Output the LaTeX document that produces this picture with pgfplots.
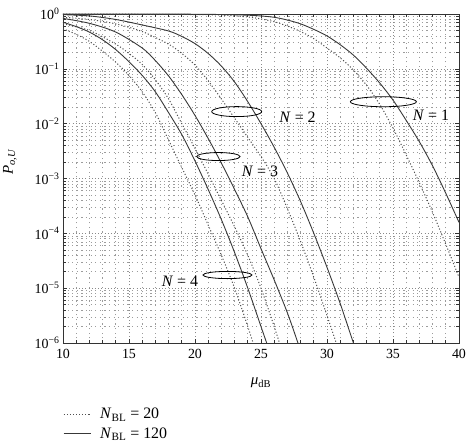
\documentclass[border=0pt]{standalone}
\usepackage{fontspec}
\setmainfont{Liberation Serif}
\usepackage{pgfplots}
\pgfplotsset{compat=1.18}
\definecolor{curvec}{HTML}{383838}
\definecolor{dotc}{HTML}{505050}
\definecolor{gridc}{HTML}{8A8A8A}
\begin{document}
\begin{tikzpicture}
\useasboundingbox (-63bp,-103bp) rectangle (406bp,343bp);
\begin{axis}[
  at={(0,0)}, anchor=south west, scale only axis,
  width=396bp, height=329bp,
  xmin=10, xmax=40, ymin=-6, ymax=0,
  xtick={10,15,...,40}, minor x tick num=4,
  ytick={-6,-5,-4,-3,-2,-1,0},
  yticklabels={10\textsuperscript{−6},10\textsuperscript{−5},10\textsuperscript{−4},10\textsuperscript{−3},10\textsuperscript{−2},10\textsuperscript{−1},10\textsuperscript{0}},
  minor ytick={-5.699,-5.523,-5.398,-5.301,-5.222,-5.155,-5.097,-5.046,
               -4.699,-4.523,-4.398,-4.301,-4.222,-4.155,-4.097,-4.046,
               -3.699,-3.523,-3.398,-3.301,-3.222,-3.155,-3.097,-3.046,
               -2.699,-2.523,-2.398,-2.301,-2.222,-2.155,-2.097,-2.046,
               -1.699,-1.523,-1.398,-1.301,-1.222,-1.155,-1.097,-1.046,
               -0.699,-0.523,-0.398,-0.301,-0.222,-0.155,-0.097,-0.046},
  grid=both,
  major grid style={gridc, line width=0.6bp, dash pattern=on 1bp off 2.2bp},
  minor grid style={gridc!85, line width=0.6bp, dash pattern=on 1.2bp off 3.4bp},
  tick align=inside, major tick length=4bp, minor tick length=3bp,
  tick style={black!80, line width=0.6bp},
  axis line style={black!80, line width=0.9bp},
  tick label style={font=\fontsize{14}{16}\selectfont},
  xticklabel style={yshift=-3bp},
  /pgf/number format/assume math mode=true,
  xlabel={\textit{μ}\textsubscript{dB}},
  xlabel style={at={(axis description cs:0.5,-0.122)}, anchor=center, font=\fontsize{15}{17}\selectfont},
  ylabel={\textit{P}\textsubscript{\textit{o},\textit{U}}},
  ylabel style={at={(axis description cs:-0.134,0.55)}, anchor=center, font=\fontsize{15}{17}\selectfont},
  legend style={draw=none, fill=none, at={(axis description cs:0,-0.192)}, anchor=north west,
    font=\fontsize{16}{18}\selectfont, row sep=3bp, inner sep=0pt,
    /tikz/every odd column/.append style={column sep=7bp}},
  legend cell align=left,
  legend image code/.code={\draw[#1] (0bp,0bp) -- (27bp,0bp);},
]
% N_BL = 20 (dotted)
\addplot[dotc, line width=1bp, dash pattern=on 1.1bp off 2bp, smooth] coordinates {
(10,-0.002)(15,-0.004)(20,-0.01)(22,-0.02)(24,-0.055)(25,-0.09)(26,-0.14)(27,-0.22)(28,-0.32)(29,-0.45)(30,-0.62)(31,-0.8)(32,-1.02)(33,-1.3)(34,-1.65)(35,-2.08)(36,-2.57)(37,-3.08)(38,-3.62)(39,-4.2)(40,-4.8)};
\addlegendentry{\textit{N}\textsubscript{BL} = 20}
% N_BL = 120 (solid)
\addplot[curvec, line width=0.9bp, smooth] coordinates {
(10,0)(15,-0.001)(20,-0.004)(22,-0.01)(24,-0.022)(25,-0.036)(26,-0.06)(27,-0.11)(28,-0.18)(29,-0.28)(30,-0.40)(31,-0.56)(32,-0.75)(33,-0.99)(34,-1.26)(35,-1.57)(36,-1.94)(37,-2.33)(38,-2.77)(39,-3.27)(40,-3.80)};
\addlegendentry{\textit{N}\textsubscript{BL} = 120}
% N = 2
\addplot[curvec, line width=0.9bp, smooth, forget plot] coordinates {
(10,-0.012)(12,-0.035)(14,-0.1)(16,-0.2)(18,-0.31)(19,-0.41)(20,-0.54)(21,-0.72)(22,-0.95)(23,-1.24)(24,-1.6)(25,-2.0)(26,-2.43)(27,-2.9)(28,-3.42)(29,-4.0)(30,-4.62)(31,-5.28)(32,-6.0)};
\addplot[dotc, line width=1bp, dash pattern=on 1.1bp off 2bp, smooth, forget plot] coordinates {
(10,-0.06)(12,-0.1)(14,-0.18)(16,-0.32)(18,-0.55)(19,-0.72)(20,-0.93)(21,-1.22)(22,-1.55)(23,-1.9)(24,-2.25)(25,-2.6)(26,-3.0)(27,-3.55)(28,-4.15)(29,-4.8)(30,-5.5)(30.7,-6.0)};
% N = 3
\addplot[curvec, line width=0.9bp, smooth, forget plot] coordinates {
(10,-0.08)(12,-0.17)(14,-0.33)(16,-0.62)(17,-0.85)(18,-1.13)(19,-1.47)(20,-1.85)(21,-2.27)(22,-2.72)(23,-3.2)(24,-3.7)(25,-4.28)(26,-4.85)(27,-5.45)(27.8,-6.0)};
\addplot[dotc, line width=1bp, dash pattern=on 1.1bp off 2bp, smooth, forget plot] coordinates {
(10,-0.18)(12,-0.3)(14,-0.55)(15,-0.72)(16,-0.92)(17,-1.2)(18,-1.55)(19,-2.0)(20,-2.45)(21,-2.92)(22,-3.4)(23,-3.88)(24,-4.4)(25,-5.0)(26,-5.7)(26.4,-6.0)};
% N = 4
\addplot[curvec, line width=0.9bp, smooth, forget plot] coordinates {
(10,-0.15)(11,-0.23)(12,-0.33)(13,-0.47)(14,-0.65)(15,-0.87)(16,-1.12)(17,-1.42)(18,-1.8)(19,-2.2)(20,-2.68)(21,-3.2)(22,-3.75)(23,-4.35)(24,-5.0)(25,-5.7)(25.43,-6.0)};
\addplot[dotc, line width=1bp, dash pattern=on 1.1bp off 2bp, smooth, forget plot] coordinates {
(10,-0.27)(11,-0.37)(12,-0.5)(13,-0.68)(14,-0.88)(15,-1.12)(16,-1.42)(17,-1.8)(18,-2.3)(19,-2.8)(20,-3.3)(21,-3.85)(22,-4.4)(23,-5.0)(24,-5.7)(24.4,-6.0)};
% annotations
\draw[black, line width=0.8bp] (axis cs:34.27,-1.60) ellipse [x radius=33bp, y radius=5bp];
\draw[black, line width=0.8bp] (axis cs:23.16,-1.78) ellipse [x radius=25bp, y radius=5bp];
\draw[black, line width=0.8bp] (axis cs:21.77,-2.60) ellipse [x radius=21.7bp, y radius=4bp];
\draw[black, line width=0.8bp] (axis cs:22.46,-4.76) ellipse [x radius=24.5bp, y radius=3.6bp];
\node[font=\fontsize{16}{18}\selectfont] at (axis cs:37.88,-1.84) {\textit{N} = 1};
\node[font=\fontsize{16}{18}\selectfont] at (axis cs:27.77,-1.89) {\textit{N} = 2};
\node[font=\fontsize{16}{18}\selectfont] at (axis cs:24.92,-2.86) {\textit{N} = 3};
\node[font=\fontsize{16}{18}\selectfont] at (axis cs:18.86,-4.87) {\textit{N} = 4};
\end{axis}
\end{tikzpicture}
\end{document}
